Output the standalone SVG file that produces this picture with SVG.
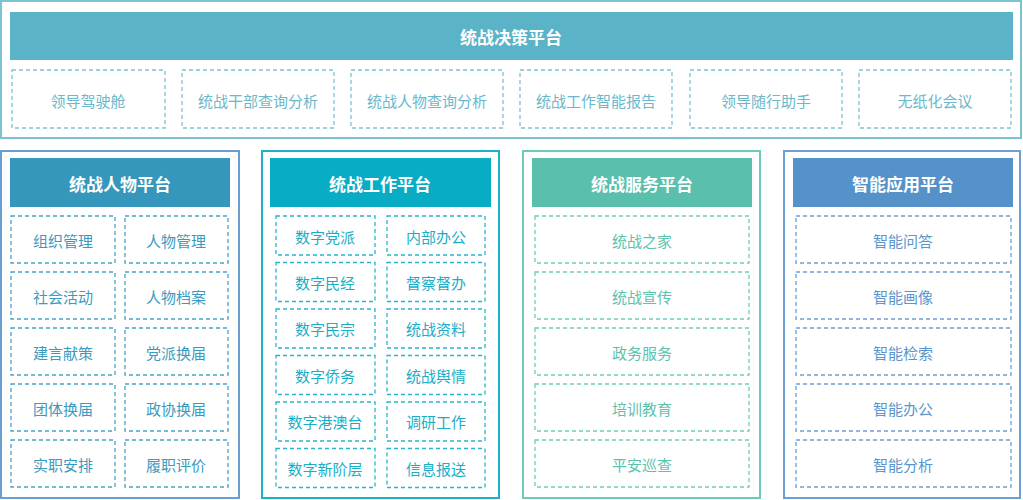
<svg xmlns="http://www.w3.org/2000/svg" width="1023" height="500" viewBox="0 0 1023 500">
<style>
text{font-family:"Noto Sans CJK SC","Noto Sans",sans-serif;text-anchor:middle;dominant-baseline:central}
.h{font-size:17px;font-weight:bold;fill:#fff}
.i{font-size:15px}
.d{fill:#fff;stroke-width:1.3;stroke-dasharray:4 3}
.t .d{stroke:#7cc3d1}.t .i{fill:#6bb8cb}
.p1 .d{stroke:#4aa3c6}.p1 .i{fill:#3a9bc0}
.p2 .d{stroke:#2ab4cb}.p2 .i{fill:#1aaec6}
.p3 .d{stroke:#72cbb9}.p3 .i{fill:#5cc2ae}
.p4 .d{stroke:#6e9fd4}.p4 .i{fill:#5b95cd}
</style>
<rect width="1023" height="500" fill="#fff"/>
<g id="top" class="t">
<rect x="1" y="1" width="1020" height="137" fill="#fff" stroke="#7cc3d1" stroke-width="2"/>
<rect x="10" y="12" width="1003" height="48" fill="#5ab3c6"/>
<text class="h" x="511" y="36">统战决策平台</text>
<rect class="d" x="12" y="70" width="153" height="58"/><text class="i" x="88" y="100">领导驾驶舱</text>
<rect class="d" x="182" y="70" width="152" height="58"/><text class="i" x="258" y="100">统战干部查询分析</text>
<rect class="d" x="351" y="70" width="152" height="58"/><text class="i" x="427" y="100">统战人物查询分析</text>
<rect class="d" x="520" y="70" width="152" height="58"/><text class="i" x="596" y="100">统战工作智能报告</text>
<rect class="d" x="690" y="70" width="152" height="58"/><text class="i" x="766" y="100">领导随行助手</text>
<rect class="d" x="859" y="70" width="152" height="58"/><text class="i" x="935" y="100">无纸化会议</text>
</g>
<g id="p1" class="p1">
<rect x="1" y="151" width="238" height="347" fill="#fff" stroke="#6a9fd3" stroke-width="2"/>
<rect x="10" y="158" width="220" height="49" fill="#3497bb"/>
<text class="h" x="120" y="183">统战人物平台</text>
<rect class="d" x="11" y="216" width="104" height="47"/><text class="i" x="63" y="240">组织管理</text>
<rect class="d" x="125" y="216" width="103" height="47"/><text class="i" x="176" y="240">人物管理</text>
<rect class="d" x="11" y="272" width="104" height="47"/><text class="i" x="63" y="296">社会活动</text>
<rect class="d" x="125" y="272" width="103" height="47"/><text class="i" x="176" y="296">人物档案</text>
<rect class="d" x="11" y="328" width="104" height="47"/><text class="i" x="63" y="352">建言献策</text>
<rect class="d" x="125" y="328" width="103" height="47"/><text class="i" x="176" y="352">党派换届</text>
<rect class="d" x="11" y="384" width="104" height="47"/><text class="i" x="63" y="408">团体换届</text>
<rect class="d" x="125" y="384" width="103" height="47"/><text class="i" x="176" y="408">政协换届</text>
<rect class="d" x="11" y="440" width="104" height="47"/><text class="i" x="63" y="464">实职安排</text>
<rect class="d" x="125" y="440" width="103" height="47"/><text class="i" x="176" y="464">履职评价</text>
</g>
<g id="p2" class="p2">
<rect x="262" y="151" width="237" height="347" fill="#fff" stroke="#1eb0c8" stroke-width="2"/>
<rect x="270" y="158" width="221" height="49" fill="#08acc5"/>
<text class="h" x="380" y="183">统战工作平台</text>
<rect class="d" x="276" y="216" width="99" height="39"/><text class="i" x="325" y="236">数字党派</text>
<rect class="d" x="387" y="216" width="98" height="39"/><text class="i" x="436" y="236">内部办公</text>
<rect class="d" x="276" y="262.5" width="99" height="39"/><text class="i" x="325" y="282">数字民经</text>
<rect class="d" x="387" y="262.5" width="98" height="39"/><text class="i" x="436" y="282">督察督办</text>
<rect class="d" x="276" y="309" width="99" height="39"/><text class="i" x="325" y="328.5">数字民宗</text>
<rect class="d" x="387" y="309" width="98" height="39"/><text class="i" x="436" y="328.5">统战资料</text>
<rect class="d" x="276" y="355.5" width="99" height="39"/><text class="i" x="325" y="375">数字侨务</text>
<rect class="d" x="387" y="355.5" width="98" height="39"/><text class="i" x="436" y="375">统战舆情</text>
<rect class="d" x="276" y="402" width="99" height="39"/><text class="i" x="325" y="421.5">数字港澳台</text>
<rect class="d" x="387" y="402" width="98" height="39"/><text class="i" x="436" y="421.5">调研工作</text>
<rect class="d" x="276" y="448.5" width="99" height="39"/><text class="i" x="325" y="468">数字新阶层</text>
<rect class="d" x="387" y="448.5" width="98" height="39"/><text class="i" x="436" y="468">信息报送</text>
</g>
<g id="p3" class="p3">
<rect x="523" y="151" width="237" height="347" fill="#fff" stroke="#6ccbb9" stroke-width="2"/>
<rect x="532" y="158" width="220" height="49" fill="#5abfad"/>
<text class="h" x="642" y="183">统战服务平台</text>
<rect class="d" x="535" y="216" width="214" height="47"/><text class="i" x="642" y="240">统战之家</text>
<rect class="d" x="535" y="272" width="214" height="47"/><text class="i" x="642" y="296">统战宣传</text>
<rect class="d" x="535" y="328" width="214" height="47"/><text class="i" x="642" y="352">政务服务</text>
<rect class="d" x="535" y="384" width="214" height="47"/><text class="i" x="642" y="408">培训教育</text>
<rect class="d" x="535" y="440" width="214" height="47"/><text class="i" x="642" y="464">平安巡查</text>
</g>
<g id="p4" class="p4">
<rect x="784" y="151" width="236" height="347" fill="#fff" stroke="#6d9fd4" stroke-width="2"/>
<rect x="793" y="158" width="220" height="49" fill="#5692ca"/>
<text class="h" x="903" y="183">智能应用平台</text>
<rect class="d" x="796" y="216" width="215" height="47"/><text class="i" x="903" y="240">智能问答</text>
<rect class="d" x="796" y="272" width="215" height="47"/><text class="i" x="903" y="296">智能画像</text>
<rect class="d" x="796" y="328" width="215" height="47"/><text class="i" x="903" y="352">智能检索</text>
<rect class="d" x="796" y="384" width="215" height="47"/><text class="i" x="903" y="408">智能办公</text>
<rect class="d" x="796" y="440" width="215" height="47"/><text class="i" x="903" y="464">智能分析</text>
</g>
<g id="connectors"/>
</svg>
